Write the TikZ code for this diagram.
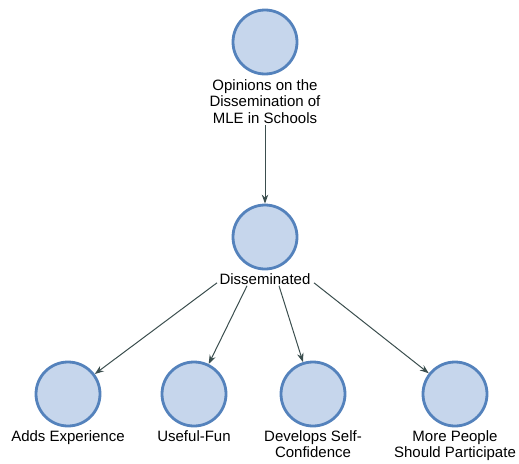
\documentclass[tikz,border=0pt]{standalone}
\usepackage{fontspec}
\setmainfont{Liberation Sans}
\usetikzlibrary{arrows.meta,positioning}
\definecolor{themefill}{HTML}{C6D6EC}
\definecolor{themeedge}{HTML}{5482BC}
\definecolor{linkcol}{HTML}{3B4E4E}
\tikzset{theme/.style={circle, draw=themeedge, line width=2.8pt, fill=themefill,
    minimum size=64pt, inner sep=0pt},
  tag/.style={align=center, inner sep=1pt,
    font=\fontsize{15pt}{16.5pt}\selectfont}}

\begin{document}
\begin{tikzpicture}[x=1pt,y=-1pt,>={Stealth[length=9pt,width=6.5pt]},
                    link/.style={->,draw=linkcol,line width=1pt}]
  \useasboundingbox (0,0) rectangle (519,463);

  \node[theme] (op)  at (265,42)  {};
  \node[tag, below=3pt of op] (oplbl) {Opinions on the\\Dissemination of\\MLE in Schools};
  \node[theme] (dis) at (265,237) {};
  \node[tag, below=2pt of dis] (dislbl) {Disseminated};

  \node[theme] (adds) at (68,394)  {};
  \node[tag, below=2pt of adds] (addslbl) {Adds Experience};
  \node[theme] (fun)  at (194,394) {};
  \node[tag, below=2pt of fun] (funlbl) {Useful-Fun};
  \node[theme] (conf) at (313,394) {};
  \node[tag, below=2pt of conf] (conflbl) {Develops Self-\\Confidence};
  \node[theme] (more) at (455,394) {};
  \node[tag, below=2pt of more] (morelbl) {More People\\Should Participate};

  \draw[link] (oplbl) -- (dis);
  \draw[link] ([xshift=-48pt,yshift=3pt]dislbl.south) -- (adds);
  \draw[link] ([xshift=-18pt]dislbl.south) -- (fun);
  \draw[link] ([xshift=14pt]dislbl.south) -- (conf);
  \draw[link] ([xshift=49pt,yshift=3pt]dislbl.south) -- (more);
\end{tikzpicture}
\end{document}
